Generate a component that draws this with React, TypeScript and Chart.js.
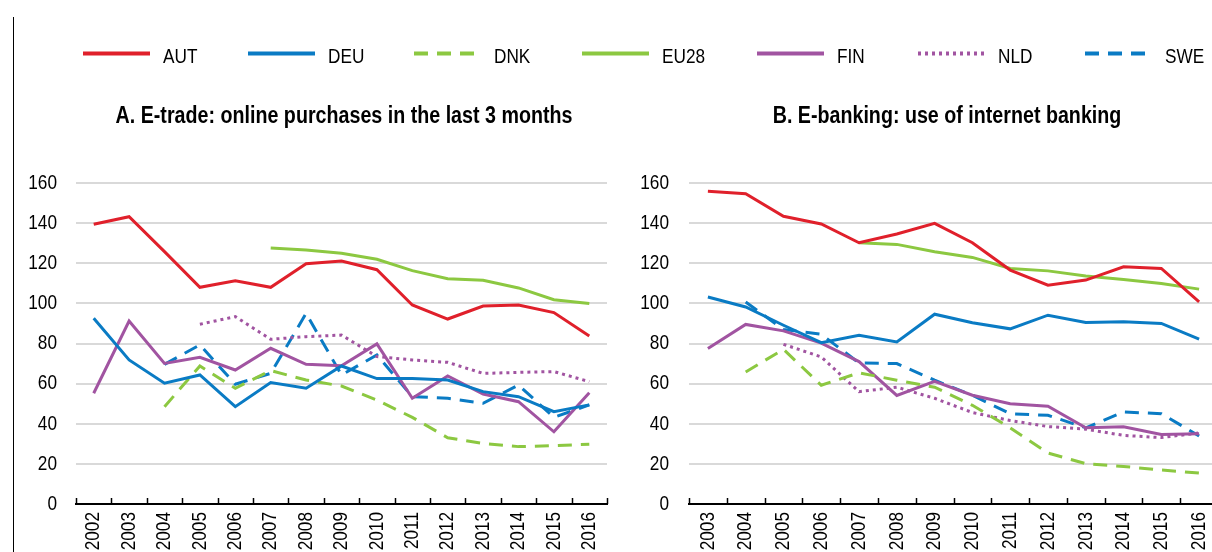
import React, { useEffect, useRef } from 'react';
import { Chart, registerables } from 'chart.js';

Chart.register(...registerables);

const FONT = '"Liberation Sans", Arial, sans-serif';
const NARROW = 0.82;

const RED = '#E0202B';
const BLUE = '#0A7BC4';
const GREEN = '#8CC841';
const PURPLE = '#A154A1';

// Panel A: E-trade
const yearsA = ['2002', '2003', '2004', '2005', '2006', '2007', '2008', '2009', '2010', '2011', '2012', '2013', '2014', '2015', '2016'];
const autA = [139.4, 143.2, 125.8, 108, 111.3, 108, 119.8, 121.1, 116.8, 99.2, 92.2, 98.7, 99.2, 95.4, 83.7];
const deuA = [92.6, 71.8, 60.2, 64.3, 48.5, 60.5, 57.7, 68.8, 62.5, 62.6, 61.8, 56, 53.5, 46, 49.4];
const dnkA = [null, null, 48.5, 68.8, 57.7, 66.5, 61.8, 58.8, 51.8, 43.2, 33, 30.2, 28.6, 29.1, 29.8];
const eu28A = [null, null, null, null, null, 127.6, 126.6, 125, 122, 116.3, 112.3, 111.5, 107.7, 101.8, 99.9];
const finA = [55.2, 91.2, 70.1, 73.1, 66.8, 77.6, 69.6, 68.9, 79.8, 52.7, 63.8, 54.8, 51, 36, 55.5];
const nldA = [null, null, null, 89.6, 93.4, 82.1, 83.4, 84.2, 73.5, 71.8, 70.6, 65.1, 65.6, 66, 61];
const sweA = [null, null, 69.6, 79.3, 59.7, 65.1, 95, 64.3, 74.3, 53.5, 52.7, 50.2, 59.3, 43.2, 49.4];

// Panel B: E-banking
const yearsB = ['2003', '2004', '2005', '2006', '2007', '2008', '2009', '2010', '2011', '2012', '2013', '2014', '2015', '2016'];
const autB = [155.9, 154.7, 143.4, 139.6, 130.2, 134.6, 139.9, 130.2, 116.6, 109.1, 111.6, 118.2, 117.4, 100.7];
const deuB = [103.2, 98.2, 89.1, 80.4, 84.1, 80.8, 94.6, 90.3, 87.3, 94.1, 90.5, 90.8, 90, 82.2];
const dnkB = [null, 65.8, 77.1, 59.2, 65.4, 61.7, 58.2, 49.2, 38, 25.4, 20.1, 18.7, 17, 15.4];
const eu28B = [null, null, null, null, 130.2, 129.4, 125.7, 122.9, 117.4, 116.2, 113.6, 111.9, 109.9, 107.1];
const finB = [77.5, 89.5, 86.3, 80.2, 71, 54.1, 61.1, 54.2, 50, 48.7, 38, 38.5, 34.7, 35];
const nldB = [null, null, 79.6, 73.3, 56, 58.2, 52.7, 45.6, 41.6, 38.6, 37.3, 34.2, 33.1, 35.4];
const sweB = [null, 100.7, 87, 84.6, 70.3, 70, 61.7, 54.2, 45, 44.2, 38, 45.9, 45, 33.9];

const seriesNames = ['AUT', 'DEU', 'DNK', 'EU28', 'FIN', 'NLD', 'SWE'];
const seriesColors = [RED, BLUE, GREEN, GREEN, PURPLE, PURPLE, BLUE];
const seriesDash: number[][] = [[], [], [14, 9], [], [], [3, 4], [14, 9]];

const yTicks = [0, 20, 40, 60, 80, 100, 120, 140, 160];

const titleA = 'A. E-trade: online purchases in the last 3 months';
const titleB = 'B. E-banking: use of internet banking';

// Inward tick marks at category boundaries on the x axis
const insideTicks = {
  id: 'insideTicks',
  afterDraw(chart: any) {
    const x = chart.scales.x;
    const ctx = chart.ctx;
    const n = x.ticks.length;
    const w = (x.right - x.left) / n;
    ctx.save();
    ctx.strokeStyle = '#000';
    ctx.lineWidth = 1.5;
    for (let i = 0; i <= n; i++) {
      const px = Math.round(x.left + i * w) + 0.5;
      ctx.beginPath();
      ctx.moveTo(px, x.top);
      ctx.lineTo(px, x.top - 6);
      ctx.stroke();
    }
    ctx.restore();
  },
};

// Tick labels drawn in a condensed (narrow) style from the chart's scales
const narrowLabels = {
  id: 'narrowLabels',
  afterDraw(chart: any, _args: any, opts: any) {
    const ctx = chart.ctx;
    const xs = chart.scales.x;
    const ys = chart.scales.y;
    ctx.save();
    ctx.fillStyle = '#000';
    ctx.font = `21px ${FONT}`;
    ctx.textBaseline = 'middle';
    ctx.textAlign = 'right';
    ys.ticks.forEach((t: any) => {
      const y = ys.getPixelForValue(t.value);
      ctx.save();
      ctx.translate(ys.right - opts.yPad, y);
      ctx.scale(NARROW, 1);
      ctx.fillText(String(t.value), 0, 0);
      ctx.restore();
    });
    xs.ticks.forEach((t: any, i: number) => {
      const x = xs.getPixelForTick(i);
      ctx.save();
      ctx.translate(x, xs.top + 8);
      ctx.rotate(-Math.PI / 2);
      ctx.scale(NARROW, 1);
      ctx.fillText(String(xs.getLabelForValue(t.value)), 0, 0);
      ctx.restore();
    });
    ctx.restore();
  },
};

function buildConfig(labels: string[], data: (number | null)[][], yWidth: number, padRight: number, yPad: number): any {
  return {
    type: 'line',
    data: {
      labels,
      datasets: data.map((d, i) => ({
        label: seriesNames[i],
        data: d,
        borderColor: seriesColors[i],
        backgroundColor: seriesColors[i],
        borderWidth: 3,
        borderDash: seriesDash[i],
        pointRadius: 0,
        pointHoverRadius: 0,
        tension: 0,
        fill: false,
        spanGaps: false,
      })),
    },
    options: {
      animation: false,
      responsive: false,
      maintainAspectRatio: false,
      layout: { padding: { top: 183, right: padRight, left: 0, bottom: 0 } },
      plugins: {
        legend: { display: false },
        tooltip: { enabled: false },
        title: { display: false },
        narrowLabels: { yPad },
      },
      scales: {
        x: {
          type: 'category',
          offset: true,
          grid: { display: false, drawTicks: false },
          border: { display: true, color: '#000', width: 2 },
          ticks: { display: false, autoSkip: false },
          afterFit(scale: any) {
            scale.height = 48;
            scale.paddingLeft = 0;
            scale.paddingRight = 0;
          },
        },
        y: {
          min: 0,
          max: 160,
          afterBuildTicks(scale: any) {
            scale.ticks = yTicks.map((v) => ({ value: v }));
          },
          grid: { color: '#d9d9d9', lineWidth: 2, drawTicks: false },
          border: { display: false },
          ticks: { display: false },
          afterFit(scale: any) {
            scale.width = yWidth;
            scale.paddingTop = 0;
            scale.paddingBottom = 0;
          },
        },
      },
    },
    plugins: [insideTicks, narrowLabels],
  };
}

function Panel({ left, width, config }: { left: number; width: number; config: any }) {
  const ref = useRef<HTMLCanvasElement | null>(null);
  useEffect(() => {
    if (!ref.current) return;
    const chart = new Chart(ref.current, config);
    return () => chart.destroy();
  }, []);
  return (
    <canvas
      ref={ref}
      width={width}
      height={552}
      style={{ position: 'absolute', left, top: 0, width, height: 552 }}
    />
  );
}

const legendLineX = [83, 248, 414, 582, 757, 918, 1085];

export default function App() {
  const cfgA = buildConfig(yearsA, [autA, deuA, dnkA, eu28A, finA, nldA, sweA], 76, 13, 19);
  const cfgB = buildConfig(yearsB, [autB, deuB, dnkB, eu28B, finB, nldB, sweB], 79, 12, 20);
  return (
    <div
      style={{
        position: 'absolute',
        left: 0,
        top: 0,
        width: 1212,
        height: 552,
        overflow: 'hidden',
        background: '#fff',
      }}
    >
      <Panel left={0} width={620} config={cfgA} />
      <Panel left={610} width={620} config={cfgB} />
      <svg
        width={1212}
        height={552}
        style={{ position: 'absolute', left: 0, top: 0, pointerEvents: 'none' }}
      >
        <line x1={13.5} y1={17} x2={13.5} y2={552} stroke="#000" strokeWidth={1} />
        {seriesNames.map((name, i) => (
          <g key={name}>
            <line
              x1={legendLineX[i]}
              y1={53.5}
              x2={legendLineX[i] + 67}
              y2={53.5}
              stroke={seriesColors[i]}
              strokeWidth={4}
              strokeDasharray={seriesDash[i].length ? seriesDash[i].join(' ') : undefined}
            />
            <text
              transform={`translate(${legendLineX[i] + 80}, 62.5) scale(${NARROW}, 1)`}
              fontFamily={FONT}
              fontSize={21}
              fill="#000"
            >
              {name}
            </text>
          </g>
        ))}
        <text
          transform={`translate(344, 123) scale(${NARROW}, 1)`}
          textAnchor="middle"
          fontFamily={FONT}
          fontSize={24}
          fontWeight="bold"
          fill="#000"
        >
          {titleA}
        </text>
        <text
          transform={`translate(947, 123) scale(${NARROW}, 1)`}
          textAnchor="middle"
          fontFamily={FONT}
          fontSize={24}
          fontWeight="bold"
          fill="#000"
        >
          {titleB}
        </text>
      </svg>
    </div>
  );
}
